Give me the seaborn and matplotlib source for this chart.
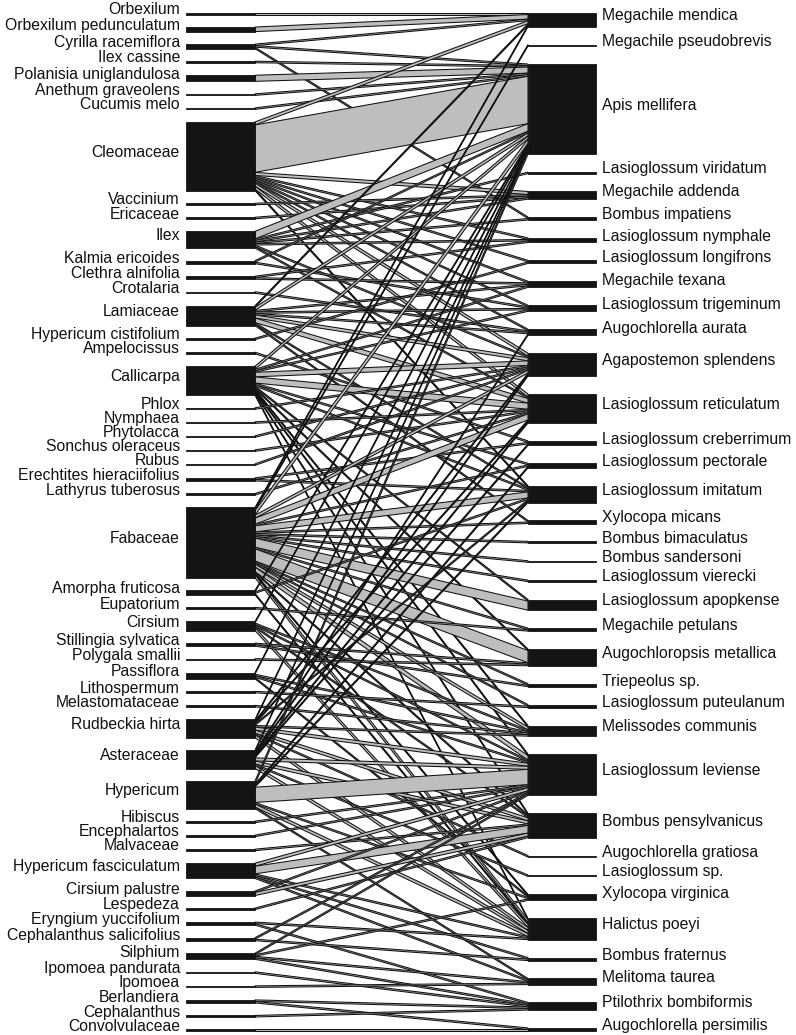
import numpy as np
import pandas as pd
import matplotlib
matplotlib.use("Agg")
import matplotlib.pyplot as plt
import seaborn as sns
from matplotlib.patches import Rectangle, Polygon

# lower level (plants), top to bottom
plants = ["Orbexilum", "Orbexilum pedunculatum", "Cyrilla racemiflora", "Ilex cassine",
          "Polanisia uniglandulosa", "Anethum graveolens", "Cucumis melo", "Cleomaceae",
          "Vaccinium", "Ericaceae", "Ilex", "Kalmia ericoides", "Clethra alnifolia",
          "Crotalaria", "Lamiaceae", "Hypericum cistifolium", "Ampelocissus", "Callicarpa",
          "Phlox", "Nymphaea", "Phytolacca", "Sonchus oleraceus", "Rubus",
          "Erechtites hieraciifolius", "Lathyrus tuberosus", "Fabaceae", "Amorpha fruticosa",
          "Eupatorium", "Cirsium", "Stillingia sylvatica", "Polygala smallii", "Passiflora",
          "Lithospermum", "Melastomataceae", "Rudbeckia hirta", "Asteraceae", "Hypericum",
          "Hibiscus", "Encephalartos", "Malvaceae", "Hypericum fasciculatum",
          "Cirsium palustre", "Lespedeza", "Eryngium yuccifolium", "Cephalanthus salicifolius",
          "Silphium", "Ipomoea pandurata", "Ipomoea", "Berlandiera", "Cephalanthus",
          "Convolvulaceae"]

# higher level (bees), top to bottom
bees = ["Megachile mendica", "Megachile pseudobrevis", "Apis mellifera",
        "Lasioglossum viridatum", "Megachile addenda", "Bombus impatiens",
        "Lasioglossum nymphale", "Lasioglossum longifrons", "Megachile texana",
        "Lasioglossum trigeminum", "Augochlorella aurata", "Agapostemon splendens",
        "Lasioglossum reticulatum", "Lasioglossum creberrimum", "Lasioglossum pectorale",
        "Lasioglossum imitatum", "Xylocopa micans", "Bombus bimaculatus", "Bombus sandersoni",
        "Lasioglossum vierecki", "Lasioglossum apopkense", "Megachile petulans",
        "Augochloropsis metallica", "Triepeolus sp.", "Lasioglossum puteulanum",
        "Melissodes communis", "Lasioglossum leviense", "Bombus pensylvanicus",
        "Augochlorella gratiosa", "Lasioglossum sp.", "Xylocopa virginica", "Halictus poeyi",
        "Bombus fraternus", "Melitoma taurea", "Ptilothrix bombiformis",
        "Augochlorella persimilis"]

# interactions: plant index, bee index, number of visits
link_plant = [0, 1, 2, 2, 2, 3, 4, 5, 6,
              7, 7, 7, 7, 7, 7, 7, 7, 7, 7, 7,
              8, 9, 10, 10, 10, 10, 10, 10, 10, 11, 11, 12, 12, 13,
              14, 14, 14, 14, 14, 14, 14, 14, 14, 15, 16,
              17, 17, 17, 17, 17, 17, 17, 17, 17, 17, 17, 17, 17,
              18, 19, 20, 21, 22, 23, 23, 24,
              25, 25, 25, 25, 25, 25, 25, 25, 25, 25, 25, 25, 25, 25, 25, 25, 25, 25, 25, 25, 25,
              26, 26, 26, 27, 28, 28, 28, 28, 28, 29, 29, 30, 31, 31, 31, 31, 32, 33,
              34, 34, 34, 34, 34, 34, 34, 34, 34,
              35, 35, 35, 35, 35, 35, 35, 35, 35,
              36, 36, 36, 36, 36, 36, 36, 37, 38, 39,
              40, 40, 40, 40, 40, 41, 41, 42, 43, 43, 44, 44,
              45, 45, 45, 45, 46, 47, 48, 48, 49, 50]
link_bee = [0, 0, 0, 2, 5, 2, 2, 2, 2,
            0, 2, 4, 6, 7, 8, 9, 10, 11, 12, 15,
            4, 4, 2, 3, 4, 5, 6, 11, 12, 2, 9, 6, 8, 10,
            0, 2, 8, 9, 10, 11, 12, 15, 16, 7, 13,
            2, 8, 9, 11, 12, 14, 15, 20, 22, 25, 26, 27, 31,
            11, 12, 11, 12, 11, 13, 15, 12,
            0, 1, 2, 11, 12, 14, 15, 16, 17, 18, 19, 20, 21, 22, 23, 24, 25, 26, 27, 30, 31,
            2, 15, 31, 21, 2, 25, 26, 27, 31, 22, 23, 22, 2, 25, 26, 30, 24, 25,
            2, 11, 12, 15, 25, 26, 27, 28, 31,
            2, 10, 11, 12, 13, 26, 27, 29, 31,
            2, 14, 15, 26, 30, 31, 33, 26, 26, 27,
            26, 27, 31, 32, 33, 26, 27, 27, 31, 34, 26, 32,
            26, 30, 33, 34, 34, 33, 34, 35, 34, 35]
link_n = [1, 3, 1, 1, 1, 1, 4, 1, 1,
          2, 31, 2, 1, 1, 1, 1, 1, 2, 2, 1,
          1, 1, 5, 1, 1, 1, 1, 1, 1, 1, 1, 1, 1, 1,
          1, 2, 1, 1, 1, 2, 3, 1, 1, 1, 1,
          2, 1, 1, 3, 4, 1, 1, 1, 1, 1, 1, 1, 1,
          1, 1, 1, 1, 1, 1, 1, 1,
          1, 1, 3, 2, 4, 1, 4, 1, 1, 1, 1, 6, 1, 8, 1, 1, 2, 3, 1, 1, 2,
          1, 1, 1, 1, 1, 1, 1, 1, 2, 1, 1, 1, 1, 1, 1, 1, 1, 1,
          1, 1, 1, 1, 1, 2, 2, 1, 2,
          1, 1, 1, 1, 1, 2, 2, 1, 2,
          2, 1, 1, 10, 1, 2, 1, 1, 1, 1,
          2, 5, 1, 1, 1, 1, 2, 1, 1, 1, 1, 1,
          1, 1, 1, 1, 1, 1, 1, 1, 1, 1]

links = pd.DataFrame({"plant": link_plant, "bee": link_bee, "n": link_n})
plant_tot = links.groupby("plant")["n"].sum().reindex(range(len(plants)), fill_value=0).values
bee_tot = links.groupby("bee")["n"].sum().reindex(range(len(bees)), fill_value=0).values

# vertical layout (pixel units, y grows downwards)
top, bottom = 13, 1031
span = bottom - top
gap_l = 12.5
total = links["n"].sum()
u = (span - gap_l * (len(plants) - 1)) / total
gap_r = (span - total * u) / (len(bees) - 1)

plant_y = top + np.concatenate([[0], np.cumsum(plant_tot * u + gap_l)[:-1]])
bee_y = top + np.concatenate([[0], np.cumsum(bee_tot * u + gap_r)[:-1]])

links = links.sort_values(["plant", "bee"])
links["yl"] = plant_y[links["plant"]] + (links.groupby("plant")["n"].cumsum() - links["n"]) * u
links = links.sort_values(["bee", "plant"])
links["yr"] = bee_y[links["bee"]] + (links.groupby("bee")["n"].cumsum() - links["n"]) * u

sns.set_theme(style="white")
plt.rcParams["font.family"] = ["Liberation Sans", "DejaVu Sans"]

fig = plt.figure(figsize=(7.96, 10.35), dpi=100)
ax = fig.add_axes([0, 0, 1, 1])
ax.set_xlim(0, 796)
ax.set_ylim(1035, 0)
ax.axis("off")

xl0, xl1, xr0, xr1 = 186, 255, 528, 596

for r in links.sort_values(["plant", "bee"]).itertuples():
    h = r.n * u
    ax.add_patch(Polygon([(xl1, r.yl), (xr0, r.yr), (xr0, r.yr + h), (xl1, r.yl + h)],
                         closed=True, facecolor="#bebebe", edgecolor="#111111", lw=0.75))

for i, name in enumerate(plants):
    h = plant_tot[i] * u
    ax.add_patch(Rectangle((xl0, plant_y[i]), xl1 - xl0, h, facecolor="#141414",
                           edgecolor="#141414", lw=0.6))
    ax.text(xl0 - 6, plant_y[i] + h / 2 + 0.5, name, ha="right", va="baseline",
            fontsize=11.3, color="#111111")

for j, name in enumerate(bees):
    h = bee_tot[j] * u
    ax.add_patch(Rectangle((xr0, bee_y[j]), xr1 - xr0, h, facecolor="#141414",
                           edgecolor="#141414", lw=0.6))
    ax.text(xr1 + 6, bee_y[j] + h / 2 + 0.5, name, ha="left", va="baseline",
            fontsize=11.3, color="#111111")

fig.savefig("out.png", dpi=100, facecolor="white")
